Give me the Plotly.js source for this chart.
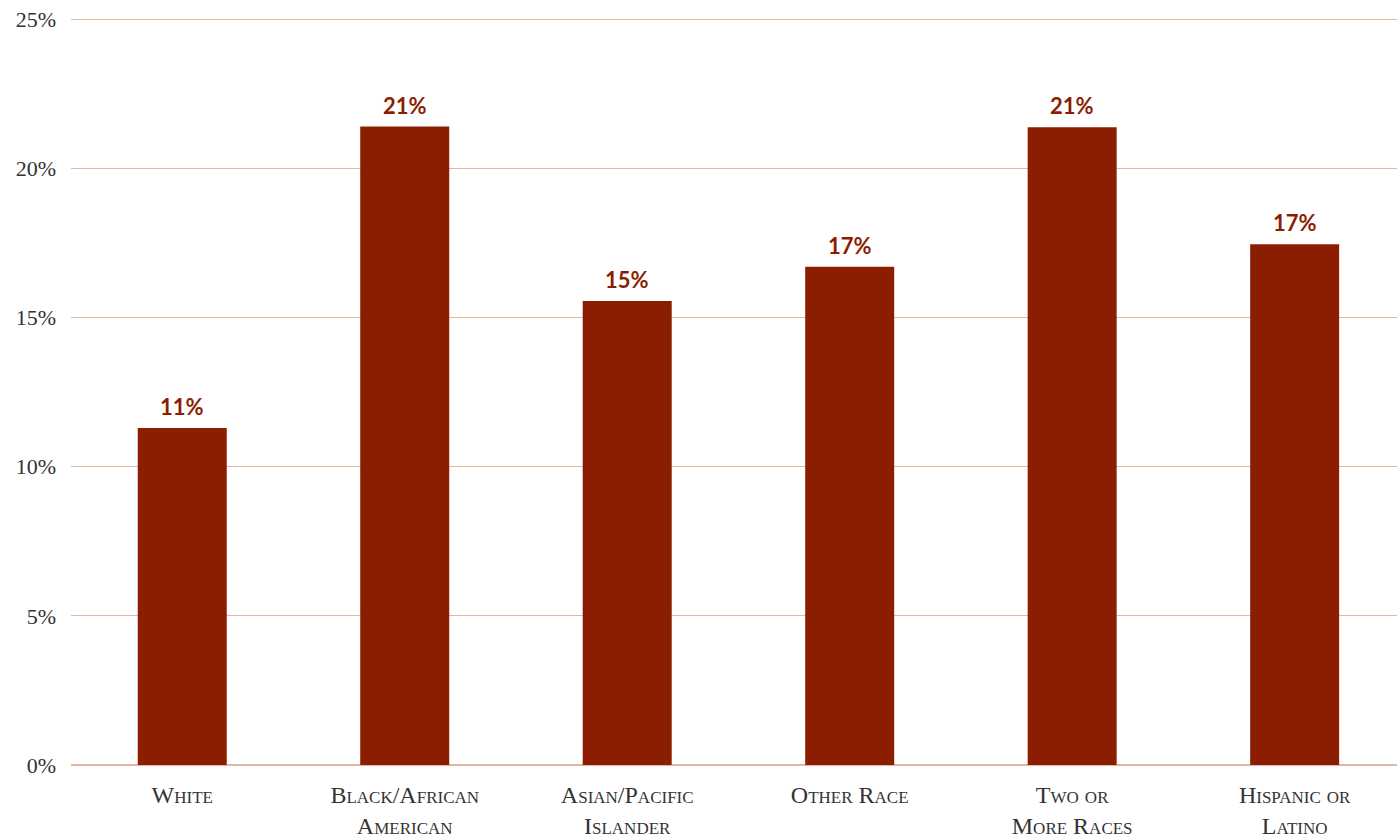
<!DOCTYPE html>
<html>
<head>
<meta charset="utf-8">
<script src="https://cdn.plot.ly/plotly-3.0.1.min.js"></script>
<style>html,body{margin:0;padding:0;background:#fff;}#chart{width:1397px;height:838px;}</style>
</head>
<body>
<div id="chart"></div>
<script>
// Data
const categories = ["White", "Black/African American", "Asian/Pacific Islander", "Other Race", "Two or More Races", "Hispanic or Latino"];
const values = [11.3, 21.4, 15.55, 16.7, 21.38, 17.46];
const barLabels = ["11%", "21%", "15%", "17%", "21%", "17%"];
// Small-caps style tick labels (first letters large, rest smaller)
const SC = s => s.split(' ').map(w => {
  return w.split('/').map(p => p.charAt(0).toUpperCase() + '<span style="font-size:17px">' + p.slice(1).toUpperCase() + '</span>').join('/');
}).join(' ');
const tickLabels = [
  SC("White"),
  SC("Black/African") + '<br>' + SC("American"),
  SC("Asian/Pacific") + '<br>' + SC("Islander"),
  SC("Other Race"),
  SC("Two or") + '<br>' + SC("More Races"),
  SC("Hispanic or") + '<br>' + SC("Latino")
];
// lowercase words like "or" are fully small caps
for (let i = 0; i < tickLabels.length; i++) {
  tickLabels[i] = tickLabels[i].replace(/O<span style="font-size:17px">R<\/span>/g, '<span style="font-size:17px">OR</span>');
}

const idx = categories.map((c, i) => i);
const barColor = '#8B1E00';

const trace = {
  type: 'bar',
  x: idx,
  y: values,
  width: 0.4,
  marker: {color: barColor},
  hoverinfo: 'none'
};

const annotations = idx.map(i => ({
  x: i,
  y: values[i],
  xref: 'x',
  yref: 'y',
  text: '<b>' + barLabels[i] + '</b>',
  showarrow: false,
  yanchor: 'bottom',
  yshift: 6,
  font: {family: 'Lato, "Open Sans", sans-serif', size: 22, color: barColor}
}));

const layout = {
  width: 1397,
  height: 838,
  margin: {l: 71, r: 0, t: 18, b: 73},
  paper_bgcolor: '#fff',
  plot_bgcolor: '#fff',
  showlegend: false,
  annotations: annotations,
  xaxis: {
    range: [-0.5, 5.46],
    tickvals: idx,
    ticktext: tickLabels,
    tickfont: {family: '"Liberation Serif", serif', size: 24, color: '#333'},
    showgrid: false,
    zeroline: false,
    showline: false,
    ticks: '',
    ticklabelstandoff: 13,
    fixedrange: true
  },
  yaxis: {
    range: [0, 25.04],
    tickvals: [0, 5, 10, 15, 20, 25],
    ticktext: ['0%', '5%', '10%', '15%', '20%', '25%'],
    tickfont: {family: '"Liberation Serif", serif', size: 22, color: '#333'},
    showgrid: true,
    gridcolor: '#E3B5A3',
    gridwidth: 1.3,
    zeroline: true,
    zerolinecolor: '#E3B5A3',
    zerolinewidth: 1.5,
    showline: false,
    ticks: '',
    ticklabelstandoff: 14,
    fixedrange: true
  }
};

Plotly.newPlot('chart', [trace], layout, {displayModeBar: false, staticPlot: true});
</script>
</body>
</html>
